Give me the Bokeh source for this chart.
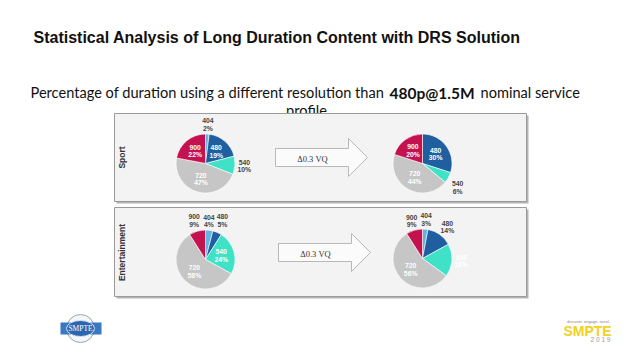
import math
from bokeh.plotting import figure
from bokeh.models import Range1d
from bokeh.embed import file_html
from bokeh.resources import INLINE
from bokeh.core.properties import value

# ---------------- data ----------------
resolutions = ["404", "480", "540", "720", "900"]
res_colors = ["#62b4e2", "#1f5f9f", "#3fe2c6", "#c6c6c6", "#c3124f"]
sport_before = [2, 19, 10, 47, 22]
sport_after = [0, 30, 6, 44, 20]
ent_before = [4, 5, 24, 58, 9]
ent_after = [3, 14, 18, 56, 9]
# label placement per slice: "in" (white, inside), "out" (dark, outside), "outw" (white, outside)
sport_before_pos = ["out", "in", "out", "in", "in"]
sport_after_pos = ["", "in", "out", "in", "in"]
ent_before_pos = ["out", "out", "in", "in", "out"]
ent_after_pos = ["out", "out", "outw", "in", "out"]
# small label nudges (dx, dy in screen px, dy positive = down)
sport_before_nudge = [(0, 0), (0, 0), (0, 0), (0, 0), (0, 0)]
sport_after_nudge = [(0, 0), (0, 0), (1, 5), (0, 0), (0, 0)]
ent_before_nudge = [(-1.5, 0), (1.5, -3), (0, 0), (0, 0), (-0.5, -1.5)]
ent_after_nudge = [(0, 0), (2, 0), (0, 0), (0, 0), (0, 0)]
row_labels = ["Sport", "Entertainment"]
arrow_label = "\u03940.3 VQ"
title = "Statistical Analysis of Long Duration Content with DRS Solution"
subtitle_a = "Percentage of duration using a different resolution than"
subtitle_b = "480p@1.5M"
subtitle_c = "nominal service"
subtitle_d = "profile"

W, H = 624, 344
p = figure(width=W, height=H, output_backend="svg", toolbar_location=None,
           x_range=Range1d(0, W), y_range=Range1d(360 - H, 360),
           x_axis_location=None, y_axis_location=None, min_border=0)
p.grid.visible = False
p.outline_line_color = None
p.background_fill_color = "white"
p.border_fill_color = "white"


def Y(v):
    return 360 - v


SANS = value("Liberation Sans")

# titles
p.text(x=[33], y=[Y(37)], text=[title], text_font=SANS, text_font_size="16px",
       text_font_style="bold", text_color="#111111", text_baseline="middle")
CAL = value("Lato")
p.text(x=[30], y=[Y(92)], text=[subtitle_a], text_font=CAL, text_font_size="14.6px",
       text_color="#111111", text_baseline="middle")
p.text(x=[389], y=[Y(92)], text=[subtitle_b], text_font=CAL, text_font_size="15.5px",
       text_font_style="bold", text_color="#111111", text_baseline="middle")
p.text(x=[480], y=[Y(92)], text=[subtitle_c], text_font=CAL, text_font_size="14.6px",
       text_color="#111111", text_baseline="middle")
p.text(x=[306], y=[Y(110)], text=[subtitle_d], text_font=CAL, text_font_size="14.6px",
       text_color="#111111", text_baseline="middle", text_align="center")

# panels
panels = [(114, 113, 526, 201), (114, 207, 526, 296)]
for (x0, y0, x1, y1) in panels:
    p.quad(left=[x0 + 2], right=[x1 + 2], top=[Y(y0 + 2)], bottom=[Y(y1 + 2)],
           fill_color="#b4b4b4", line_color=None)
    p.quad(left=[x0], right=[x1], top=[Y(y0)], bottom=[Y(y1)],
           fill_color="#f3f3f3", line_color="#9a9a9a", line_width=1)

# row labels
for lbl, yc in zip(row_labels, [157, 252]):
    p.text(x=[121], y=[Y(yc)], text=[lbl], angle=math.pi / 2, text_font=SANS,
           text_font_size="8.5px", text_font_style="bold", text_color="#333333",
           text_align="center", text_baseline="middle")

# arrows
for dx, dy in [(0, 0), (3, 95)]:
    xs = [275, 348, 348, 367, 348, 348, 275]
    ys = [148, 148, 138, 157, 176, 166, 166]
    p.patch([x + dx for x in xs], [Y(y + dy) for y in ys], fill_color="#fbfbfb",
            line_color="#b8b8b8", line_width=1)
    p.text(x=[312 + dx], y=[Y(158 + dy)], text=[arrow_label], text_font=value("Liberation Serif"),
           text_font_size="8.5px", text_color="#333333", text_align="center", text_baseline="middle")

# pies
R = 29.5
pies = [
    (205, 163, sport_before, sport_before_pos, sport_before_nudge),
    (422, 163, sport_after, sport_after_pos, sport_after_nudge),
    (205, 259, ent_before, ent_before_pos, ent_before_nudge),
    (422, 258, ent_after, ent_after_pos, ent_after_nudge),
]
for cx, cy, vals, pos, nudge in pies:
    total = float(sum(vals))
    cum = 0.0
    starts, ends, cols = [], [], []
    lx, ly, lt1, lt2, lc = [], [], [], [], []
    for name, v, col, ps, (ndx, ndy) in zip(resolutions, vals, res_colors, pos, nudge):
        if v <= 0:
            continue
        f0 = cum / total
        f1 = (cum + v) / total
        cum += v
        starts.append(math.pi / 2 - 2 * math.pi * f0)
        ends.append(math.pi / 2 - 2 * math.pi * f1)
        cols.append(col)
        mid = (f0 + f1) / 2 * 2 * math.pi
        rf = 0.55 if ps == "in" else 1.32
        lx.append(cx + rf * R * math.sin(mid) + ndx)
        ly.append(Y(cy) + rf * R * math.cos(mid) - ndy)
        lt1.append(name)
        lt2.append("%d%%" % v)
        lc.append("#454545" if ps == "out" else "#ffffff")
    p.wedge(x=[cx] * len(starts), y=[Y(cy)] * len(starts), radius=R,
            start_angle=starts, end_angle=ends, direction="clock",
            fill_color=cols, line_color="#ffffff", line_width=0.6)
    p.text(x=lx, y=[v + 3.8 for v in ly], text=lt1, text_color=lc, text_font=SANS,
           text_font_size="6.8px", text_font_style="bold", text_align="center", text_baseline="middle")
    p.text(x=lx, y=[v - 3.8 for v in ly], text=lt2, text_color=lc, text_font=SANS,
           text_font_size="6.8px", text_font_style="bold", text_align="center", text_baseline="middle")

# left logo (SMPTE)
p.circle(x=[80], y=[Y(328)], radius=14, fill_color="#f4f6f8", line_color="#9aa4b0", line_width=1)
p.quad(left=[60], right=[101], top=[Y(322)], bottom=[Y(334)], fill_color="#3a78c2", line_color=None)
p.ellipse(x=[80], y=[Y(328)], width=28, height=16, fill_color="#2c66b0", line_color="#dce6f2", line_width=1)
p.text(x=[80], y=[Y(328)], text=["SMPTE"], text_font=value("Liberation Serif"), text_font_size="7.5px",
       text_color="#ffffff", text_align="center", text_baseline="middle")

# right logo (SMPTE 2019)
p.text(x=[588], y=[Y(321)], text=["discover. engage. excel."], text_font=SANS, text_font_size="4px",
       text_color="#888888", text_align="center", text_baseline="middle")
p.text(x=[587], y=[Y(330)], text=["SMPTE"], text_font=SANS, text_font_size="14px", text_font_style="bold",
       text_color="#f2d21c", text_align="center", text_baseline="middle")
p.text(x=[600], y=[Y(339)], text=["2 0 1 9"], text_font=SANS, text_font_size="6.5px",
       text_color="#9a9a9a", text_align="center", text_baseline="middle")

open("out.html", "w").write(file_html(p, INLINE))
